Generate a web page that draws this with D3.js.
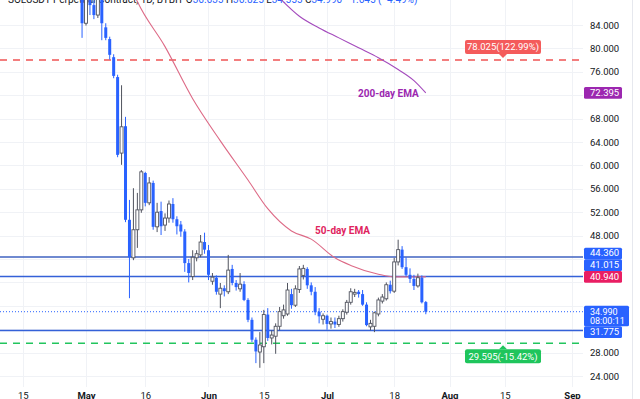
<!DOCTYPE html>
<html>
<head>
<meta charset="utf-8">
<script src="https://cdn.jsdelivr.net/npm/d3@7"></script>
<style>
html, body { margin: 0; padding: 0; background: #fff; }
svg { display: block; font-family: Roboto, "Noto Sans", sans-serif; }
</style>
</head>
<body>
<svg id="chart" width="640" height="399"></svg>
<script>
// SOLUSDT daily candles, 2022-04-30 .. 2022-07-26
const firstDay = "2022-04-30";
const opens = [89.0, 84.3, 88.5, 87.4, 85.7, 89.5, 83.6, 81.6, 78.5, 75.1,
    62.1, 66.7, 50.7, 44.2, 49.0, 52.4, 58.7, 53.6, 57.0, 49.5,
    52.2, 49.8, 51.0, 53.4, 50.8, 49.9, 48.7, 43.3, 41.0, 44.2,
    44.7, 46.9, 45.5, 40.2, 40.8, 38.0, 39.0, 38.4, 42.3, 39.9,
    38.9, 39.7, 37.0, 33.6, 30.2, 28.1, 29.0, 34.5, 30.5, 30.8,
    32.5, 34.3, 34.6, 38.0, 36.1, 38.8, 41.2, 42.3, 39.5, 38.4,
    35.0, 33.7, 34.3, 32.9, 33.3, 32.8, 33.8, 34.9, 36.6, 38.0,
    38.4, 38.0, 36.2, 32.4, 32.5, 34.6, 36.8, 37.2, 39.6, 38.5,
    43.5, 45.6, 42.6, 41.3, 40.6, 39.4, 40.8, 36.635];
const highs = [90.5, 89.5, 90.0, 88.2, 91.0, 90.5, 84.3, 82.0, 79.0, 75.5,
    73.7, 68.3, 54.1, 56.1, 55.3, 59.2, 58.9, 58.0, 57.4, 53.6,
    53.8, 51.8, 54.0, 54.4, 51.3, 50.5, 49.1, 44.0, 45.5, 45.5,
    48.1, 48.5, 46.4, 41.6, 41.2, 39.9, 39.5, 44.7, 43.0, 40.4,
    41.6, 40.2, 37.3, 34.0, 30.6, 31.5, 35.3, 35.6, 31.8, 33.0,
    35.8, 36.2, 39.9, 38.9, 39.5, 42.8, 43.0, 42.6, 40.0, 39.2,
    35.6, 34.7, 34.5, 34.0, 34.0, 34.3, 35.4, 37.0, 39.0, 38.9,
    38.7, 38.7, 36.6, 33.6, 35.0, 37.4, 38.0, 40.0, 40.3, 44.2,
    47.3, 46.2, 44.3, 42.4, 41.3, 41.5, 41.2, 36.825];
const lows = [81.8, 83.9, 85.7, 85.0, 85.2, 81.4, 81.4, 78.1, 74.9, 61.4,
    60.1, 50.3, 37.3, 43.8, 45.9, 51.9, 53.0, 53.2, 49.0, 48.6,
    48.1, 48.8, 50.2, 50.2, 48.2, 47.8, 41.8, 40.0, 40.4, 43.6,
    44.3, 44.9, 40.4, 39.6, 37.9, 35.6, 37.6, 38.0, 39.5, 38.6,
    38.4, 36.8, 33.2, 29.8, 26.2, 25.4, 26.2, 30.0, 29.4, 27.8,
    31.8, 33.8, 34.3, 35.5, 35.8, 38.2, 40.5, 38.9, 37.8, 34.4,
    33.0, 32.8, 31.9, 32.1, 32.2, 32.4, 33.3, 34.5, 36.2, 37.5,
    37.4, 36.0, 32.5, 31.8, 31.5, 34.2, 36.4, 36.9, 38.1, 38.2,
    42.9, 42.3, 41.0, 39.9, 38.7, 39.1, 36.4, 34.555];
const closes = [84.3, 88.8, 87.4, 85.7, 89.5, 84.3, 81.8, 78.9, 75.3, 61.8,
    66.6, 50.7, 44.3, 49.0, 52.4, 58.9, 53.6, 57.0, 49.5, 52.0,
    49.6, 51.0, 53.4, 50.8, 49.6, 48.7, 43.3, 41.6, 44.3, 44.9,
    46.9, 45.6, 41.3, 40.9, 38.4, 39.0, 38.5, 42.1, 39.9, 39.2,
    39.7, 37.0, 33.6, 30.2, 28.2, 29.3, 34.5, 30.5, 31.0, 32.5,
    35.0, 35.3, 38.7, 36.1, 38.9, 42.3, 42.4, 39.5, 38.4, 34.9,
    34.2, 34.3, 32.9, 33.3, 32.8, 33.8, 35.0, 36.6, 38.4, 38.3,
    38.0, 36.2, 32.7, 33.0, 34.8, 37.0, 37.5, 39.6, 38.5, 43.5,
    45.6, 42.6, 41.3, 40.6, 39.4, 40.8, 36.6, 34.99];

// moving averages
const ema50Dates = ["2022-05-13", "2022-05-14", "2022-05-21", "2022-05-28", "2022-06-04",
    "2022-06-11", "2022-06-16", "2022-06-22", "2022-06-27", "2022-07-03",
    "2022-07-07", "2022-07-14", "2022-07-18", "2022-07-22", "2022-07-26"];
const ema50Values = [89.5, 88.0, 80.3, 71.4, 64.2, 57.5, 52.6, 48.8, 47.4, 44.2,
    42.9, 41.4, 40.95, 40.95, 40.94];
const ema200Dates = ["2022-06-19", "2022-06-24", "2022-06-29", "2022-07-04", "2022-07-09",
    "2022-07-14", "2022-07-19", "2022-07-23", "2022-07-26"];
const ema200Values = [88.6, 85.5, 83.5, 81.8, 80.1, 78.4, 76.4, 74.5, 72.395];

// horizontal levels
const levelValues = [44.36, 41.015, 31.775];
const targetValues = [78.025, 29.595];
const targetLabels = ["78.025(122.99%)", "29.595(-15.42%)"];
const lastPrice = 34.99;
const countdown = "08:00:11";

const yTicks = [24, 28, 32, 36, 40, 44, 48, 52, 56, 60, 64, 68, 72, 76, 80, 84];
const xTickDates = ["2022-04-15", "2022-05-01", "2022-05-16", "2022-06-01", "2022-06-15",
    "2022-07-01", "2022-07-18", "2022-08-01", "2022-08-15", "2022-09-01"];
const xTickLabels = ["15", "May", "16", "Jun", "15", "Jul", "18", "Aug", "15", "Sep"];

const svg = d3.select("#chart"),
    plotRight = 583,
    plotBottom = 387,
    downColor = "#2962ff",
    upStroke = "#50535e",
    gridColor = "#f0f2f6";

const parseDate = d3.utcParse("%Y-%m-%d");
const start = parseDate(firstDay);
const days = d3.utcDay.range(start, d3.utcDay.offset(start, opens.length));
const candles = days.map(function (d, i) {
    return { date: d, o: opens[i], h: highs[i], l: lows[i], c: closes[i] };
});

const x = d3.scaleUtc()
    .domain([parseDate("2022-05-01"), parseDate("2022-09-01")])
    .range([86, 572]);
const y = d3.scaleLinear()
    .domain([24, 84])
    .range([376, 25]);

svg.append("defs").append("clipPath").attr("id", "plot")
    .append("rect").attr("x", 0).attr("y", 0).attr("width", plotRight).attr("height", plotBottom);

// grid
const grid = svg.append("g");
grid.selectAll("line.v")
    .data(xTickDates)
    .enter().append("line")
    .attr("x1", function (d) { return Math.round(x(parseDate(d))) + 0.5; })
    .attr("x2", function (d) { return Math.round(x(parseDate(d))) + 0.5; })
    .attr("y1", 0).attr("y2", plotBottom)
    .attr("stroke", gridColor);
grid.selectAll("line.h")
    .data(yTicks)
    .enter().append("line")
    .attr("x1", 0).attr("x2", plotRight)
    .attr("y1", function (d) { return Math.round(y(d)) + 0.5; })
    .attr("y2", function (d) { return Math.round(y(d)) + 0.5; })
    .attr("stroke", gridColor);
svg.append("line")
    .attr("x1", 632.5).attr("x2", 632.5).attr("y1", 0).attr("y2", 399)
    .attr("stroke", "#e6e8ee");

// header legend, cut by the top edge
const header = svg.append("text")
    .attr("x", 8).attr("y", 3)
    .attr("font-size", 10)
    .attr("fill", "#131722");
header.append("tspan").text("SOLUSDT Perpetual Contract, 1D, BYBIT ");
[["O", "36.635"], ["H", "36.825"], ["L", "34.555"], ["C", "34.990"]].forEach(function (p) {
    header.append("tspan").text(" " + p[0]);
    header.append("tspan").attr("fill", downColor).text(p[1]);
});
header.append("tspan").attr("fill", downColor).text(" \u22121.645 (\u22124.49%)");

const plot = svg.append("g").attr("clip-path", "url(#plot)");

// target lines (dashed)
const targetColors = ["#f05454", "#22c55e"];
plot.selectAll("line.target")
    .data(targetValues)
    .enter().append("line")
    .attr("x1", 0).attr("x2", plotRight)
    .attr("y1", function (d) { return y(d); })
    .attr("y2", function (d) { return y(d); })
    .attr("stroke", function (d, i) { return targetColors[i]; })
    .attr("stroke-width", 1.6)
    .attr("stroke-dasharray", "7,6");

// support / resistance
plot.selectAll("line.level")
    .data(levelValues)
    .enter().append("line")
    .attr("x1", 0).attr("x2", plotRight)
    .attr("y1", function (d) { return y(d); })
    .attr("y2", function (d) { return y(d); })
    .attr("stroke", function (d, i) { return i === 0 ? "#3f62c0" : "#3461d8"; })
    .attr("stroke-width", 1.5);

plot.append("line")
    .attr("x1", 0).attr("x2", plotRight)
    .attr("y1", y(lastPrice)).attr("y2", y(lastPrice))
    .attr("stroke", downColor)
    .attr("stroke-width", 1)
    .attr("stroke-dasharray", "1,2");

// EMAs
const emaLine = d3.line()
    .x(function (d) { return x(d[0]); })
    .y(function (d) { return y(d[1]); })
    .curve(d3.curveMonotoneX);
plot.append("path")
    .datum(ema50Dates.map(function (d, i) { return [parseDate(d), ema50Values[i]]; }))
    .attr("d", emaLine)
    .attr("fill", "none")
    .attr("stroke", "#dd6a86")
    .attr("stroke-width", 1.1);
plot.append("path")
    .datum(ema200Dates.map(function (d, i) { return [parseDate(d), ema200Values[i]]; }))
    .attr("d", emaLine)
    .attr("fill", "none")
    .attr("stroke", "#a44bbd")
    .attr("stroke-width", 1.1);

// candles
const bodyW = 3;
const candle = plot.selectAll("g.candle")
    .data(candles)
    .enter().append("g");
candle.append("line")
    .attr("x1", function (d) { return x(d.date); })
    .attr("x2", function (d) { return x(d.date); })
    .attr("y1", function (d) { return y(d.h); })
    .attr("y2", function (d) { return y(d.l); })
    .attr("stroke", function (d) { return d.c >= d.o ? upStroke : downColor; })
    .attr("stroke-width", 1);
candle.append("rect")
    .attr("x", function (d) { return x(d.date) - bodyW / 2; })
    .attr("width", bodyW)
    .attr("y", function (d) { return y(Math.max(d.o, d.c)); })
    .attr("height", function (d) { return Math.max(1, Math.abs(y(d.o) - y(d.c))); })
    .attr("fill", function (d) { return d.c >= d.o ? "#fff" : downColor; })
    .attr("stroke", function (d) { return d.c >= d.o ? upStroke : downColor; })
    .attr("stroke-width", function (d) { return d.c >= d.o ? 0.9 : 0; });

// EMA captions
svg.append("text")
    .attr("x", 358).attr("y", 96.5)
    .attr("font-size", 10).attr("font-weight", "bold")
    .attr("fill", "#9c27b0")
    .text("200-day EMA");
svg.append("text")
    .attr("x", 315).attr("y", 233.5)
    .attr("font-size", 10).attr("font-weight", "bold")
    .attr("fill", "#e0245e")
    .text("50-day EMA");

// target labels with pointer
const targetBoxColors = ["#f45b5b", "#1fc55c"];
targetValues.forEach(function (v, i) {
    const cx = 503, ly = y(v), above = i === 0;
    const boxTop = above ? ly - 20 : ly + 6;
    const g = svg.append("g");
    g.append("rect")
        .attr("x", cx - 38).attr("y", boxTop)
        .attr("width", 76).attr("height", 14).attr("rx", 2)
        .attr("fill", targetBoxColors[i]);
    g.append("path")
        .attr("d", above
            ? "M" + (cx - 4) + "," + (boxTop + 14) + "L" + (cx + 4) + "," + (boxTop + 14) + "L" + cx + "," + (boxTop + 18) + "Z"
            : "M" + (cx - 4) + "," + boxTop + "L" + (cx + 4) + "," + boxTop + "L" + cx + "," + (boxTop - 4) + "Z")
        .attr("fill", targetBoxColors[i]);
    g.append("text")
        .attr("x", cx).attr("y", boxTop + 10.3)
        .attr("text-anchor", "middle")
        .attr("font-size", 9.5)
        .attr("fill", "#fff")
        .text(targetLabels[i]);
});

// price labels on the axis
const tagH = 11.7;
const tags = [
    { v: 72.395, color: "#9c27b0", lines: ["72.395"], fixed: true },
    { v: levelValues[0], color: "#2962ff", lines: ["44.360"], fixed: false },
    { v: levelValues[1], color: "#2962ff", lines: ["41.015"], fixed: false },
    { v: 40.94, color: "#e91e63", lines: ["40.940"], fixed: true },
    { v: lastPrice, color: "#2962ff", lines: ["34.990", countdown], fixed: true },
    { v: levelValues[2], color: "#2962ff", lines: ["31.775"], fixed: false }
];
tags.forEach(function (t) {
    t.h = t.lines.length === 1 ? tagH : 20.5;
    t.top = y(t.v) - tagH / 2;
});
// push movable tags away from overlaps: upward first, then downward
const byBottom = tags.slice().sort(function (a, b) { return b.top - a.top; });
for (let i = 1; i < byBottom.length; i++) {
    const prev = byBottom[i - 1], t = byBottom[i];
    if (!t.fixed && t.top + t.h > prev.top && t.top < prev.top) t.top = prev.top - t.h;
}
const byTop = tags.slice().sort(function (a, b) { return a.top - b.top; });
for (let i = 1; i < byTop.length; i++) {
    const prev = byTop[i - 1], t = byTop[i];
    if (!t.fixed && t.top < prev.top + prev.h) t.top = prev.top + prev.h;
}

// price axis: ticks hidden under a tag are not drawn
const visibleTicks = yTicks.filter(function (v) {
    const ty = y(v);
    return !tags.some(function (t) { return ty > t.top - 3 && ty < t.top + t.h + 3; });
});
const yAxis = svg.append("g")
    .attr("transform", "translate(586,0)")
    .call(d3.axisRight(y).tickValues(visibleTicks).tickSize(0).tickPadding(4)
        .tickFormat(d3.format(".3f")));
yAxis.select(".domain").remove();
yAxis.selectAll("text")
    .attr("font-family", "Roboto, sans-serif")
    .attr("font-size", 9.5)
    .attr("fill", "#131722");

// time axis
const xAxis = svg.append("g")
    .attr("transform", "translate(0,392)")
    .call(d3.axisBottom(x)
        .tickValues(xTickDates.map(parseDate))
        .tickSize(0).tickPadding(0)
        .tickFormat(function (d, i) { return xTickLabels[i]; }));
xAxis.select(".domain").remove();
xAxis.selectAll("text")
    .attr("font-family", "Roboto, sans-serif")
    .attr("font-size", 9.5)
    .attr("fill", "#131722")
    .attr("font-weight", function (d, i) { return /[A-Z]/.test(xTickLabels[i]) ? "bold" : "normal"; });

const tagG = svg.selectAll("g.tag")
    .data(tags)
    .enter().append("g");
tagG.append("rect")
    .attr("x", 584)
    .attr("y", function (d) { return d.top; })
    .attr("width", function (d) { return d.lines.length > 1 ? 45 : 38; })
    .attr("height", function (d) { return d.h; })
    .attr("rx", 1.5)
    .attr("fill", function (d) { return d.color; });
tagG.each(function (d) {
    const g = d3.select(this);
    const fs = d.lines.length > 1 ? 9 : 9.5;
    d.lines.forEach(function (line, k) {
        g.append("text")
            .attr("x", 590)
            .attr("y", d.top + 8.8 + k * 9.6)
            .attr("font-size", fs)
            .attr("fill", "#fff")
            .text(line);
    });
});
</script>
</body>
</html>
